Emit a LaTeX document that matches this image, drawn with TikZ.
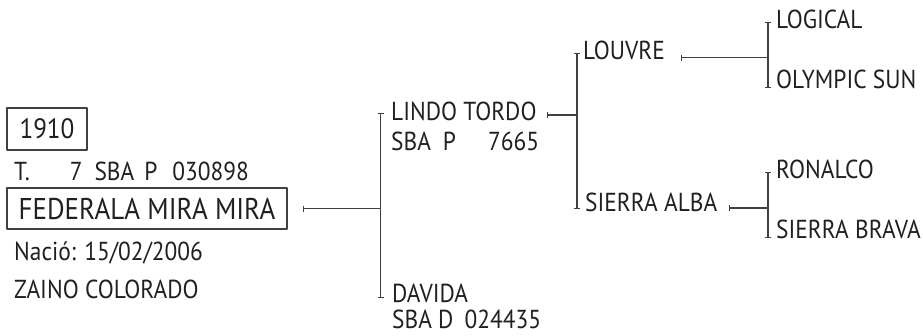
\documentclass[tikz,border=0pt]{standalone}
\usepackage{fontspec}
\setmainfont{PT Sans}[FakeStretch=0.9]
\usetikzlibrary{arrows.meta}
\definecolor{ink}{HTML}{231F20}
\definecolor{rulegray}{HTML}{404040}
\begin{document}
\begin{tikzpicture}[x=1pt,y=-1pt,line join=round,
	txt/.style={anchor=base west,inner sep=0pt,text=ink,font=\fontsize{26}{30}\selectfont},
	nbox/.style={draw=rulegray,line width=1.2pt,inner sep=0pt,text=ink},
	hlink/.style={draw=rulegray,line width=1.3pt,{Bar[width=6pt]}-},
	vlink/.style={draw=rulegray,line width=1.3pt,{Bar[width=6pt]}-{Bar[width=6pt]}}]
	% --- Marco del dibujo ---
	\useasboundingbox (0,0) rectangle (923,335);
	% --- Ficha del ejemplar ---
	\node[nbox,minimum width=80pt,minimum height=42pt,font=\fontsize{28}{32}\selectfont] (yr) at (47,129) {1910};
	\node[txt] (tat) at (14,180) {T.\hspace{40pt}7\hspace{12pt}SBA\hspace{10pt}P\hspace{15pt}030898};
	\node[nbox,minimum width=280pt,minimum height=41pt,font=\fontsize{30}{34}\selectfont] (fed) at (147,208.5) {FEDERALA MIRA MIRA};
	\node[txt] (nac) at (14,260) {Nació: 15/02/2006};
	\node[txt] (cap) at (14,298) {ZAINO COLORADO};
	% --- Padres ---
	\node[txt] (lt) at (391,120) {LINDO TORDO};
	\node[txt] (ltr) at (391,150) {SBA\hspace{12pt}P\hspace{32pt}7665};
	\node[txt] (dv) at (392,302) {DAVIDA};
	\node[txt] (dvr) at (392,328.5) {SBA D\hspace{11pt}024435};
	% --- Abuelos ---
	\node[txt] (lv) at (583,59) {LOUVRE};
	\node[txt] (sa) at (585,211) {SIERRA ALBA};
	% --- Bisabuelos ---
	\node[txt] (lg) at (776,28) {LOGICAL};
	\node[txt] (os) at (776,88) {OLYMPIC SUN};
	\node[txt] (rn) at (776,178) {RONALCO};
	\node[txt] (sb) at (776,238) {SIERRA BRAVA};
	% --- Uniones ---
	\coordinate (j1) at (380.5,0);
	\coordinate (j2) at (577,0);
	\coordinate (j3) at (768,0);
	\draw[hlink] ([xshift=15pt]fed.east) -- (fed.east -| j1);
	\draw[vlink] ([yshift=-2pt]lt.west -| j1) -- ([yshift=4pt]dv.base west -| j1);
	\draw[hlink] ([xshift=10pt,yshift=5pt]lt.base east) -- ([yshift=5pt]lt.base east -| j2);
	\draw[vlink] ([yshift=-3pt]lv.west -| j2) -- ([yshift=2pt]sa.base west -| j2);
	\draw[hlink] ([xshift=16pt,yshift=1.5pt]lv.base east) -- ([yshift=1.5pt]lv.base east -| j3);
	\draw[hlink] ([xshift=11pt,yshift=3pt]sa.base east) -- ([yshift=3pt]sa.base east -| j3);
	\draw[vlink] ([yshift=-3pt]lg.west -| j3) -- (os.base west -| j3);
	\draw[vlink] ([yshift=-3pt]rn.west -| j3) -- (sb.base west -| j3);
\end{tikzpicture}
\end{document}
